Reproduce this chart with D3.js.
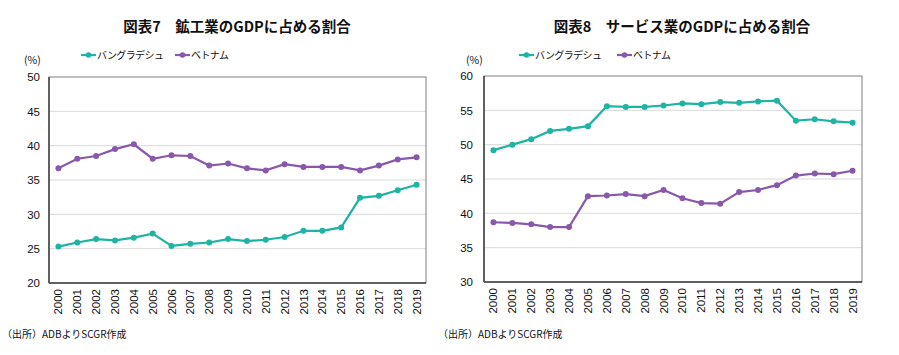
<!DOCTYPE html>
<html><head><meta charset="utf-8">
<script src="https://cdn.jsdelivr.net/npm/d3@7"></script>
<style>body{margin:0;background:#fff;}svg{display:block;font-family:"Noto Sans CJK JP","Noto Sans",sans-serif;}</style>
</head><body><svg id="c" width="899" height="355"></svg>
<script>
const years = ["2000","2001","2002","2003","2004","2005","2006","2007","2008","2009","2010","2011","2012","2013","2014","2015","2016","2017","2018","2019"];
const seriesNames = ["バングラデシュ","ベトナム"];
const colors = ["#1db4a3","#8a58ab"];
// 図表7 鉱工業
const industryBangladesh = [25.3,25.9,26.4,26.2,26.6,27.2,25.4,25.7,25.9,26.4,26.1,26.3,26.7,27.6,27.6,28.1,32.4,32.7,33.5,34.3];
const industryVietnam = [36.7,38.1,38.5,39.5,40.2,38.1,38.6,38.5,37.1,37.4,36.7,36.4,37.3,36.9,36.9,36.9,36.4,37.1,38.0,38.3];
const industryTicks = [20,25,30,35,40,45,50];
// 図表8 サービス業
const serviceBangladesh = [49.2,50.0,50.8,52.0,52.3,52.7,55.6,55.5,55.5,55.7,56.0,55.9,56.2,56.1,56.3,56.4,53.5,53.7,53.4,53.2];
const serviceVietnam = [38.7,38.6,38.4,38.0,38.0,42.5,42.6,42.8,42.5,43.4,42.2,41.5,41.4,43.1,43.4,44.1,45.5,45.8,45.7,46.2];
const serviceTicks = [30,35,40,45,50,55,60];

const svg = d3.select("#c");

function chart(o){
  const g = svg.append("g");
  const x = d3.scaleBand().domain(years).range([o.left,o.right]);
  const y = d3.scaleLinear().domain([o.ticks[0],o.ticks[o.ticks.length-1]]).range([o.bottom,o.top]);
  g.append("text").attr("x",o.titleX).attr("y",32).attr("text-anchor","middle")
    .attr("font-size",14.5).attr("font-weight","bold").attr("fill","#111").text(o.title);
  g.selectAll(".grid").data(o.ticks.slice(1,-1)).join("line")
    .attr("x1",o.left).attr("x2",o.right).attr("y1",d=>y(d)).attr("y2",d=>y(d))
    .attr("stroke","#d9d9d9").attr("stroke-width",1);
  g.append("rect").attr("x",o.left).attr("y",o.top).attr("width",o.right-o.left).attr("height",o.bottom-o.top)
    .attr("fill","none").attr("stroke","#7f7f7f").attr("stroke-width",1);
  g.append("line").attr("x1",o.left).attr("x2",o.right).attr("y1",o.bottom).attr("y2",o.bottom).attr("stroke","#404040").attr("stroke-width",1.5);
  g.append("line").attr("x1",o.left).attr("x2",o.left).attr("y1",o.top).attr("y2",o.bottom).attr("stroke","#404040").attr("stroke-width",1.5);
  const ya = d3.axisLeft(y).tickValues(o.ticks).tickSize(0).tickPadding(o.left-o.yLabelX);
  const yg = g.append("g").attr("transform",`translate(${o.left},0)`).call(ya);
  yg.select(".domain").remove();
  yg.selectAll("text").attr("font-size",11.5).attr("fill","#111").attr("font-family","'Liberation Sans',Arial,sans-serif");
  const xa = d3.axisBottom(x).tickSize(0).tickPadding(0);
  const xg = g.append("g").attr("transform",`translate(0,${o.bottom})`).call(xa);
  xg.select(".domain").remove();
  xg.selectAll("text").attr("font-size",11.5).attr("fill","#111").attr("font-family","'Liberation Sans',Arial,sans-serif")
    .attr("transform","rotate(-90)").attr("text-anchor","end").attr("dy","0.35em").attr("x",-6).attr("y",0);
  g.append("text").attr("x",o.unitX).attr("y",64).attr("font-size",10.5).attr("fill","#111").text("(%)");
  const line = d3.line().x((d,i)=>x(years[i])+x.bandwidth()/2).y(d=>y(d));
  o.data.forEach((s,k)=>{
    g.append("path").datum(s).attr("d",line).attr("fill","none").attr("stroke",colors[k]).attr("stroke-width",2.2);
    g.selectAll(".pt"+k).data(s).join("circle")
      .attr("cx",(d,i)=>x(years[i])+x.bandwidth()/2).attr("cy",d=>y(d)).attr("r",3).attr("fill",colors[k]);
  });
  seriesNames.forEach((n,k)=>{
    const lx = o.legendX[k];
    g.append("line").attr("x1",lx).attr("x2",lx+15).attr("y1",55).attr("y2",55).attr("stroke",colors[k]).attr("stroke-width",2.2);
    g.append("circle").attr("cx",lx+7.5).attr("cy",55).attr("r",2.8).attr("fill",colors[k]);
    g.append("text").attr("x",lx+16).attr("y",59).attr("font-size",10).attr("fill","#111").attr("letter-spacing","-0.6").text(n);
  });
  g.append("text").attr("x",o.srcX).attr("y",338).attr("font-size",10).attr("fill","#111").text("（出所）ADBよりSCGR作成");
}

chart({left:49,right:426,top:77,bottom:283,ticks:industryTicks,data:[industryBangladesh,industryVietnam],
  title:"図表7　鉱工業のGDPに占める割合",titleX:237,yLabelX:40,unitX:24,legendX:[81,175],srcX:2});
chart({left:484,right:862,top:76,bottom:282,ticks:serviceTicks,data:[serviceBangladesh,serviceVietnam],
  title:"図表8　サービス業のGDPに占める割合",titleX:682,yLabelX:473,unitX:466,legendX:[519,617],srcX:438});
</script></body></html>
